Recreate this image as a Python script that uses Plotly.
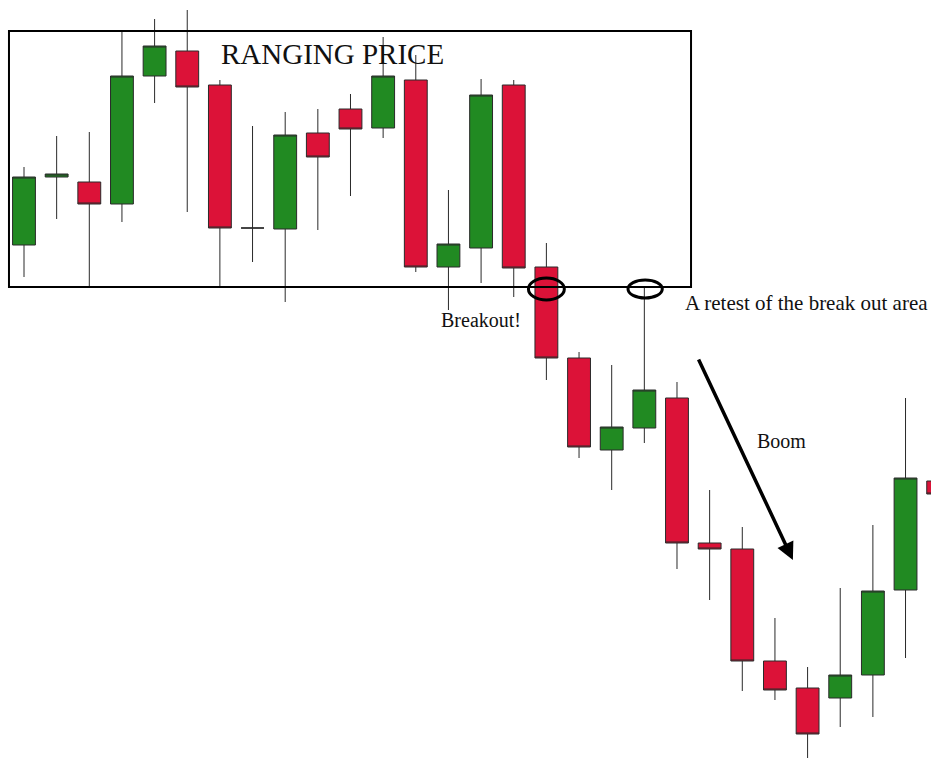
import plotly.graph_objects as go

# Candle index (1..29) and prices (arbitrary units, higher = up)
candle = list(range(1, 30))
open_ = [515, 583, 578, 556, 684, 709, 675, 532, 531, 627, 651, 632, 680, 493, 512,
         675, 493, 402, 310, 332, 362, 217, 211, 99, 72, 62, 85, 170, 279]
high = [593, 624, 628, 729, 741, 750, 680, 634, 648, 651, 666, 723, 705, 570, 681,
        680, 517, 408, 395, 472, 378, 270, 233, 142, 93, 172, 235, 362, 280]
low = [483, 541, 473, 538, 657, 548, 473, 498, 458, 530, 564, 622, 488, 450, 477,
       463, 380, 302, 270, 317, 191, 160, 69, 60, 2, 33, 43, 102, 266]
close = [583, 586, 556, 684, 714, 673, 532, 532, 625, 603, 631, 684, 493, 516, 665,
         492, 402, 313, 333, 370, 217, 211, 99, 70, 26, 85, 169, 282, 266]

GREEN = "#218a22"
RED = "#dc1238"

fig = go.Figure()
fig.add_trace(go.Candlestick(
    x=candle, open=open_, high=high, low=low, close=close,
    increasing=dict(fillcolor=GREEN, line=dict(color="#2a2a2a", width=1)),
    decreasing=dict(fillcolor=RED, line=dict(color="#2a2a2a", width=1)),
    whiskerwidth=0,
    hoverinfo="skip",
))

SERIF = "Liberation Serif"

# Ranging box
fig.add_shape(type="rect", xref="x", yref="y", x0=0.54, x1=21.43, y0=473, y1=729,
              line=dict(color="black", width=2), fillcolor="rgba(0,0,0,0)", layer="above")
# Ellipses
fig.add_shape(type="circle", xref="x", yref="y", x0=16.45, x1=17.55, y0=460, y1=482,
              line=dict(color="black", width=3), layer="above")
fig.add_shape(type="circle", xref="x", yref="y", x0=19.5, x1=20.55, y0=462, y1=480,
              line=dict(color="black", width=3), layer="above")

fig.add_annotation(x=10.45, y=706, xref="x", yref="y", text="RANGING PRICE", showarrow=False,
                   font=dict(family=SERIF, size=29, color="#111"))
fig.add_annotation(x=15.0, y=440, xref="x", yref="y", text="Breakout!", showarrow=False,
                   font=dict(family=SERIF, size=20, color="#111"))
fig.add_annotation(x=28.74, y=457, xref="x", yref="y", text="A retest of the break out area",
                   xanchor="right", showarrow=False, font=dict(family=SERIF, size=21, color="#111"))
fig.add_annotation(x=24.2, y=319, xref="x", yref="y", text="Boom", showarrow=False,
                   font=dict(family=SERIF, size=20, color="#111"))
# Arrow
fig.add_annotation(x=24.55, y=200, ax=21.64, ay=402, xref="x", yref="y", axref="x", ayref="y",
                   text="", showarrow=True, arrowhead=2, arrowsize=1.0, arrowwidth=3.5,
                   arrowcolor="black")

fig.update_layout(
    width=931, height=760,
    margin=dict(l=0, r=0, t=0, b=0),
    paper_bgcolor="white", plot_bgcolor="white",
    showlegend=False,
    boxgap=0.3, boxgroupgap=0,
    xaxis=dict(range=[0.265, 28.78], visible=False, rangeslider=dict(visible=False), fixedrange=True),
    yaxis=dict(range=[0, 760], visible=False, fixedrange=True),
)

# Remove the page's default body margin so the figure fills the window exactly.
fig.write_html(
    "out.html",
    config={"displayModeBar": False},
    post_script="document.body.style.margin='0';document.body.style.overflow='hidden';",
)
